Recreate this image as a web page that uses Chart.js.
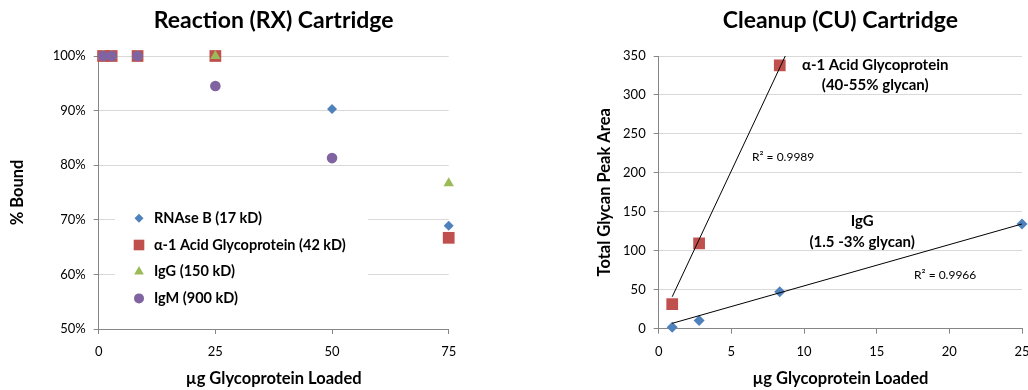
<!DOCTYPE html>
<html>
<head>
<meta charset="utf-8">
<script src="https://cdn.jsdelivr.net/npm/chart.js@4.4.1/dist/chart.umd.min.js"></script>
<style>
  html, body { margin: 0; padding: 0; background: #fff; overflow: hidden; width: 1028px; height: 390px; }
  #left { position: absolute; left: 0; top: 0; width: 520px; height: 390px; }
  #right { position: absolute; left: 540px; top: 0; width: 500px; height: 390px; }
</style>
</head>
<body>
<div id="left"><canvas id="rx"></canvas></div>
<div id="right"><canvas id="cu"></canvas></div>
<script>
// Reaction cartridge: % bound vs load (null = no point)
const rxLoads = [0.93, 2.78, 8.33, 25, 50, 75];
const rnaseB = [100, 100, 100, 100, 90.3, 68.9];
const agpRx = [100, 100, 100, 100, null, 66.7];
const iggRx = [100, 100, 100, 100, null, 76.7];
const igmRx = [100, 100, 100, 94.5, 81.3, null];
const rxNames = ['RNAse B (17 kD)', 'α-1 Acid Glycoprotein (42 kD)', 'IgG (150 kD)', 'IgM (900 kD)'];

// Cleanup cartridge: total glycan peak area vs load
const cuLoads = [0.93, 2.78, 8.33, 25];
const iggCu = [2, 10.5, 47.5, 134.4];
const agpCu = [31.5, 109.5, 338];
// trendline ends
const agpTrendX = [0.93, 8.71];
const agpTrendY = [41, 350];
const iggTrendX = [0.93, 25];
const iggTrendY = [6.9, 134.4];

const BLUE = '#4F81BD', RED = '#C0504D', GREEN = '#9BBB59', PURPLE = '#8064A2';
const AXIS = '#868686', GRID = '#D9D9D9';

Chart.defaults.font.family = 'Lato';
Chart.defaults.color = '#000';

function pts(xs, ys) {
  const out = [];
  ys.forEach((y, i) => { if (y !== null) out.push({ x: xs[i], y: y }); });
  return out;
}

function marker(label, data, color, style, radius, order) {
  return {
    label: label, data: data, order: order, clip: false,
    backgroundColor: color, borderWidth: 0,
    pointStyle: style, pointRadius: radius, pointHoverRadius: radius
  };
}

function xScale(max, step, height) {
  return {
    type: 'linear', min: 0, max: max,
    afterFit: s => { s.height = height; },
    ticks: { stepSize: step, padding: 10, font: { size: 13 } },
    grid: { drawOnChartArea: false, tickLength: 5, tickColor: AXIS },
    border: { color: AXIS },
    title: { display: true, text: 'µg Glycoprotein Loaded', font: { size: 16.5, weight: 'bold' }, padding: { top: 0, bottom: 1.5 } }
  };
}

function yScale(min, max, step, width, title, titlePad, cb) {
  return {
    type: 'linear', min: min, max: max,
    afterFit: s => { s.width = width; },
    ticks: { stepSize: step, padding: 8, font: { size: 13 }, callback: cb },
    grid: { color: GRID, tickLength: 5, tickColor: AXIS },
    border: { color: AXIS },
    title: { display: true, text: title, font: { size: 16.5, weight: 'bold' }, padding: { top: titlePad, bottom: 0 } }
  };
}

function chartTitle(text) {
  return {
    display: true, text: text, fullSize: false,
    font: { size: 23, weight: 'bold' },
    padding: { top: 7, bottom: 21.4 }
  };
}

const insideLegend = {
  id: 'insideLegend',
  afterDraw(chart) {
    const ctx = chart.ctx;
    const radii = [4.5, 7.5, 5.6, 5];
    ctx.save();
    ctx.fillStyle = '#fff';
    ctx.fillRect(115, 204, 253, 108);
    ctx.font = 'bold 14.5px Lato';
    ctx.textBaseline = 'middle';
    chart.data.datasets.forEach((ds, i) => {
      const y = 218.3 + i * 26.7;
      ctx.fillStyle = ds.backgroundColor;
      Chart.helpers.drawPoint(ctx, { pointStyle: ds.pointStyle, radius: radii[i], rotation: 0, borderWidth: 0 }, 139, y);
      ctx.fillStyle = '#000';
      ctx.fillText(ds.label, 154, y);
    });
    ctx.restore();
  }
};

new Chart(document.getElementById('rx'), {
  type: 'scatter',
  data: {
    datasets: [
      marker(rxNames[0], pts(rxLoads, rnaseB), BLUE, 'rectRot', 5, 4),
      marker(rxNames[1], pts(rxLoads, agpRx), RED, 'rect', 8.3, 3),
      marker(rxNames[2], pts(rxLoads, iggRx), GREEN, 'triangle', 6, 2),
      marker(rxNames[3], pts(rxLoads, igmRx), PURPLE, 'circle', 5.3, 1)
    ]
  },
  options: {
    responsive: true, maintainAspectRatio: false, animation: false, events: [],
    layout: { padding: { left: 0, top: 0, right: 71.3, bottom: 0 } },
    scales: {
      x: xScale(75, 25, 61),
      y: yScale(50, 100, 10, 98.7, '% Bound', 8, v => v + '%')
    },
    plugins: { legend: { display: false }, tooltip: { enabled: false }, title: chartTitle('Reaction (RX) Cartridge') }
  },
  plugins: [insideLegend]
});

const notes = [
  { text: 'α-1 Acid Glycoprotein', x: 14.9, y: 338, bold: true, align: 'center', size: 15 },
  { text: '(40-55% glycan)', x: 14.9, y: 312.5, bold: true, align: 'center', size: 15 },
  { text: 'IgG', x: 14.0, y: 137.4, bold: true, align: 'center', size: 15 },
  { text: '(1.5 -3% glycan)', x: 14.0, y: 111.7, bold: true, align: 'center', size: 15 },
  { text: 'R² = 0.9989', x: 6.42, y: 220.8, bold: false, align: 'left', size: 12 },
  { text: 'R² = 0.9966', x: 17.57, y: 69.3, bold: false, align: 'left', size: 12 }
];

const noteText = {
  id: 'noteText',
  afterDraw(chart) {
    const ctx = chart.ctx, xs = chart.scales.x, ys = chart.scales.y;
    ctx.save();
    ctx.fillStyle = '#000';
    ctx.textBaseline = 'middle';
    notes.forEach(n => {
      ctx.font = (n.bold ? 'bold ' : '') + n.size + 'px Lato';
      ctx.textAlign = n.align;
      ctx.fillText(n.text, xs.getPixelForValue(n.x), ys.getPixelForValue(n.y));
    });
    ctx.restore();
  }
};

function trend(xs, ys) {
  return {
    data: pts(xs, ys), order: 0, showLine: true,
    borderColor: '#000', borderWidth: 1, pointRadius: 0, pointHoverRadius: 0
  };
}

new Chart(document.getElementById('cu'), {
  type: 'scatter',
  data: {
    datasets: [
      trend(agpTrendX, agpTrendY),
      trend(iggTrendX, iggTrendY),
      marker('IgG', pts(cuLoads, iggCu), BLUE, 'rectRot', 5.5, 2),
      marker('α-1 Acid Glycoprotein', pts(cuLoads, agpCu), RED, 'rect', 8.3, 1)
    ]
  },
  options: {
    responsive: true, maintainAspectRatio: false, animation: false, events: [],
    layout: { padding: { left: 0, top: 0, right: 18, bottom: 0 } },
    scales: {
      x: xScale(25, 5, 61.3),
      y: yScale(0, 350, 50, 118.7, 'Total Glycan Peak Area', 55)
    },
    plugins: { legend: { display: false }, tooltip: { enabled: false }, title: chartTitle('Cleanup (CU) Cartridge') }
  },
  plugins: [noteText]
});
</script>
</body>
</html>
